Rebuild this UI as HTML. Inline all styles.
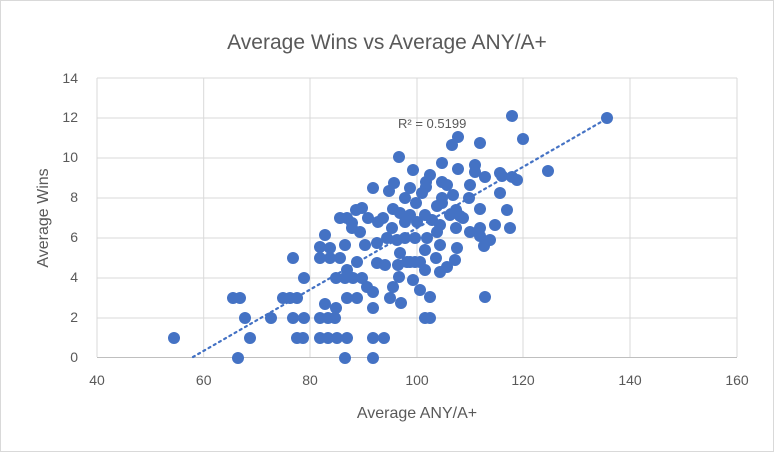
<!DOCTYPE html>
<html><head><meta charset="utf-8"><style>
html,body{margin:0;padding:0;background:#fff}
svg{display:block}
text{font-family:"Liberation Sans",sans-serif;fill:#595959}
</style></head><body>
<svg width="774" height="452" viewBox="0 0 774 452">
<rect x="0.5" y="0.5" width="773" height="451" fill="#fff" stroke="#d9d9d9"/>
<text x="387" y="49" font-size="21" text-anchor="middle">Average Wins vs Average ANY/A+</text>
<g stroke="#d9d9d9" stroke-width="1">
<line x1="97" y1="78" x2="737" y2="78"/><line x1="97" y1="118" x2="737" y2="118"/>
<line x1="97" y1="158" x2="737" y2="158"/><line x1="97" y1="198" x2="737" y2="198"/>
<line x1="97" y1="238" x2="737" y2="238"/><line x1="97" y1="278" x2="737" y2="278"/>
<line x1="97" y1="318" x2="737" y2="318"/>
<line x1="97" y1="78" x2="97" y2="357"/><line x1="203.7" y1="78" x2="203.7" y2="357"/>
<line x1="310" y1="78" x2="310" y2="357"/><line x1="417" y1="78" x2="417" y2="357"/>
<line x1="523" y1="78" x2="523" y2="357"/><line x1="630" y1="78" x2="630" y2="357"/>
<line x1="737" y1="78" x2="737" y2="357"/>
</g>
<line x1="97" y1="357.5" x2="737" y2="357.5" stroke="#bfbfbf"/>
<g font-size="14" text-anchor="end">
<text x="78" y="362">0</text><text x="78" y="322">2</text><text x="78" y="282">4</text>
<text x="78" y="242">6</text><text x="78" y="202">8</text><text x="78" y="162">10</text>
<text x="78" y="122">12</text><text x="78" y="83">14</text>
</g>
<g font-size="14" text-anchor="middle">
<text x="97" y="385">40</text><text x="203.7" y="385">60</text><text x="310" y="385">80</text>
<text x="417" y="385">100</text><text x="523" y="385">120</text><text x="630" y="385">140</text><text x="737" y="385">160</text>
</g>
<text x="417" y="418" font-size="16" text-anchor="middle">Average ANY/A+</text>
<text transform="translate(48,218) rotate(-90)" font-size="16" text-anchor="middle">Average Wins</text>
<g fill="#4472c4">
<circle cx="174" cy="338" r="6"/><circle cx="238" cy="358" r="6"/><circle cx="373" cy="358" r="6"/><circle cx="345" cy="358" r="6"/>
<circle cx="233" cy="298" r="6"/><circle cx="240" cy="298" r="6"/><circle cx="245" cy="318" r="6"/><circle cx="250" cy="338" r="6"/>
<circle cx="271" cy="318" r="6"/><circle cx="283" cy="298" r="6"/><circle cx="290" cy="298" r="6"/><circle cx="297" cy="298" r="6"/>
<circle cx="293" cy="318" r="6"/><circle cx="304" cy="318" r="6"/><circle cx="297" cy="338" r="6"/><circle cx="303" cy="338" r="6"/>
<circle cx="304" cy="278" r="6"/><circle cx="293" cy="258" r="6"/><circle cx="320" cy="247" r="6"/><circle cx="320" cy="258" r="6"/>
<circle cx="330" cy="258" r="6"/><circle cx="340" cy="258" r="6"/><circle cx="325" cy="235" r="6"/><circle cx="345" cy="245" r="6"/>
<circle cx="320" cy="318" r="6"/><circle cx="328" cy="318" r="6"/><circle cx="335" cy="318" r="6"/><circle cx="325" cy="304" r="6"/>
<circle cx="336" cy="308" r="6"/><circle cx="320" cy="338" r="6"/><circle cx="328" cy="338" r="6"/><circle cx="337" cy="338" r="6"/>
<circle cx="347" cy="338" r="6"/><circle cx="336" cy="278" r="6"/><circle cx="347" cy="298" r="6"/><circle cx="357" cy="298" r="6"/>
<circle cx="345" cy="278" r="6"/><circle cx="353" cy="278" r="6"/><circle cx="362" cy="278" r="6"/><circle cx="347" cy="270" r="6"/>
<circle cx="357" cy="262" r="6"/><circle cx="367" cy="287" r="6"/><circle cx="373" cy="292" r="6"/><circle cx="373" cy="308" r="6"/>
<circle cx="373" cy="338" r="6"/><circle cx="384" cy="338" r="6"/><circle cx="390" cy="298" r="6"/><circle cx="393" cy="287" r="6"/>
<circle cx="399" cy="277" r="6"/><circle cx="377" cy="243" r="6"/><circle cx="377" cy="263" r="6"/><circle cx="387" cy="238" r="6"/>
<circle cx="400" cy="253" r="6"/><circle cx="407" cy="262" r="6"/><circle cx="415" cy="262" r="6"/>
<circle cx="512" cy="116" r="6"/><circle cx="523" cy="139" r="6"/><circle cx="548" cy="171" r="6"/><circle cx="480" cy="143" r="6"/>
<circle cx="452" cy="145" r="6"/><circle cx="458" cy="137" r="6"/><circle cx="399" cy="157" r="6"/><circle cx="442" cy="163" r="6"/>
<circle cx="458" cy="169" r="6"/><circle cx="475" cy="165" r="6"/><circle cx="475" cy="172" r="6"/><circle cx="485" cy="177" r="6"/>
<circle cx="500" cy="173" r="6"/><circle cx="502" cy="176" r="6"/><circle cx="512" cy="177" r="6"/><circle cx="517" cy="180" r="6"/>
<circle cx="500" cy="193" r="6"/><circle cx="469" cy="198" r="6"/><circle cx="480" cy="209" r="6"/><circle cx="480" cy="228" r="6"/>
<circle cx="463" cy="218" r="6"/><circle cx="373" cy="188" r="6"/><circle cx="389" cy="191" r="6"/><circle cx="394" cy="183" r="6"/>
<circle cx="410" cy="188" r="6"/><circle cx="426" cy="182" r="6"/><circle cx="426" cy="187" r="6"/><circle cx="422" cy="193" r="6"/>
<circle cx="442" cy="182" r="6"/><circle cx="447" cy="185" r="6"/><circle cx="405" cy="198" r="6"/><circle cx="416" cy="203" r="6"/>
<circle cx="442" cy="198" r="6"/><circle cx="442" cy="203" r="6"/><circle cx="437" cy="206" r="6"/><circle cx="356" cy="210" r="6"/>
<circle cx="362" cy="208" r="6"/><circle cx="347" cy="218" r="6"/><circle cx="352" cy="223" r="6"/><circle cx="352" cy="228" r="6"/>
<circle cx="368" cy="218" r="6"/><circle cx="378" cy="222" r="6"/><circle cx="383" cy="218" r="6"/><circle cx="393" cy="209" r="6"/>
<circle cx="400" cy="213" r="6"/><circle cx="405" cy="222" r="6"/><circle cx="410" cy="215" r="6"/><circle cx="417" cy="222" r="6"/>
<circle cx="425" cy="215" r="6"/><circle cx="432" cy="220" r="6"/><circle cx="440" cy="225" r="6"/><circle cx="450" cy="215" r="6"/>
<circle cx="456" cy="210" r="6"/><circle cx="460" cy="216" r="6"/><circle cx="456" cy="228" r="6"/><circle cx="470" cy="232" r="6"/>
<circle cx="447" cy="267" r="6"/><circle cx="430" cy="297" r="6"/><circle cx="430" cy="318" r="6"/><circle cx="425" cy="318" r="6"/>
<circle cx="485" cy="297" r="6"/><circle cx="457" cy="248" r="6"/><circle cx="455" cy="260" r="6"/><circle cx="427" cy="238" r="6"/>
<circle cx="437" cy="232" r="6"/><circle cx="440" cy="245" r="6"/><circle cx="405" cy="238" r="6"/><circle cx="410" cy="262" r="6"/>
<circle cx="420" cy="262" r="6"/><circle cx="436" cy="258" r="6"/><circle cx="484" cy="246" r="6"/><circle cx="490" cy="240" r="6"/>
<circle cx="607" cy="118" r="6"/><circle cx="480" cy="236" r="6"/><circle cx="495" cy="225" r="6"/><circle cx="507" cy="210" r="6"/>
<circle cx="510" cy="228" r="6"/><circle cx="397" cy="240" r="6"/><circle cx="392" cy="228" r="6"/><circle cx="415" cy="238" r="6"/>
<circle cx="425" cy="250" r="6"/><circle cx="398" cy="265" r="6"/><circle cx="385" cy="265" r="6"/><circle cx="365" cy="245" r="6"/>
<circle cx="360" cy="232" r="6"/><circle cx="330" cy="248" r="6"/><circle cx="413" cy="280" r="6"/><circle cx="420" cy="290" r="6"/>
<circle cx="401" cy="303" r="6"/><circle cx="340" cy="218" r="6"/><circle cx="430" cy="175" r="6"/><circle cx="470" cy="185" r="6"/>
<circle cx="453" cy="195" r="6"/><circle cx="413" cy="170" r="6"/><circle cx="425" cy="270" r="6"/><circle cx="440" cy="272" r="6"/>
</g>
<line x1="193" y1="357" x2="608" y2="118" stroke="#4472c4" stroke-width="2.2" stroke-dasharray="2 4" stroke-linecap="round"/>
<text x="398" y="128" font-size="13">R² = 0.5199</text>
</svg>
</body></html>
